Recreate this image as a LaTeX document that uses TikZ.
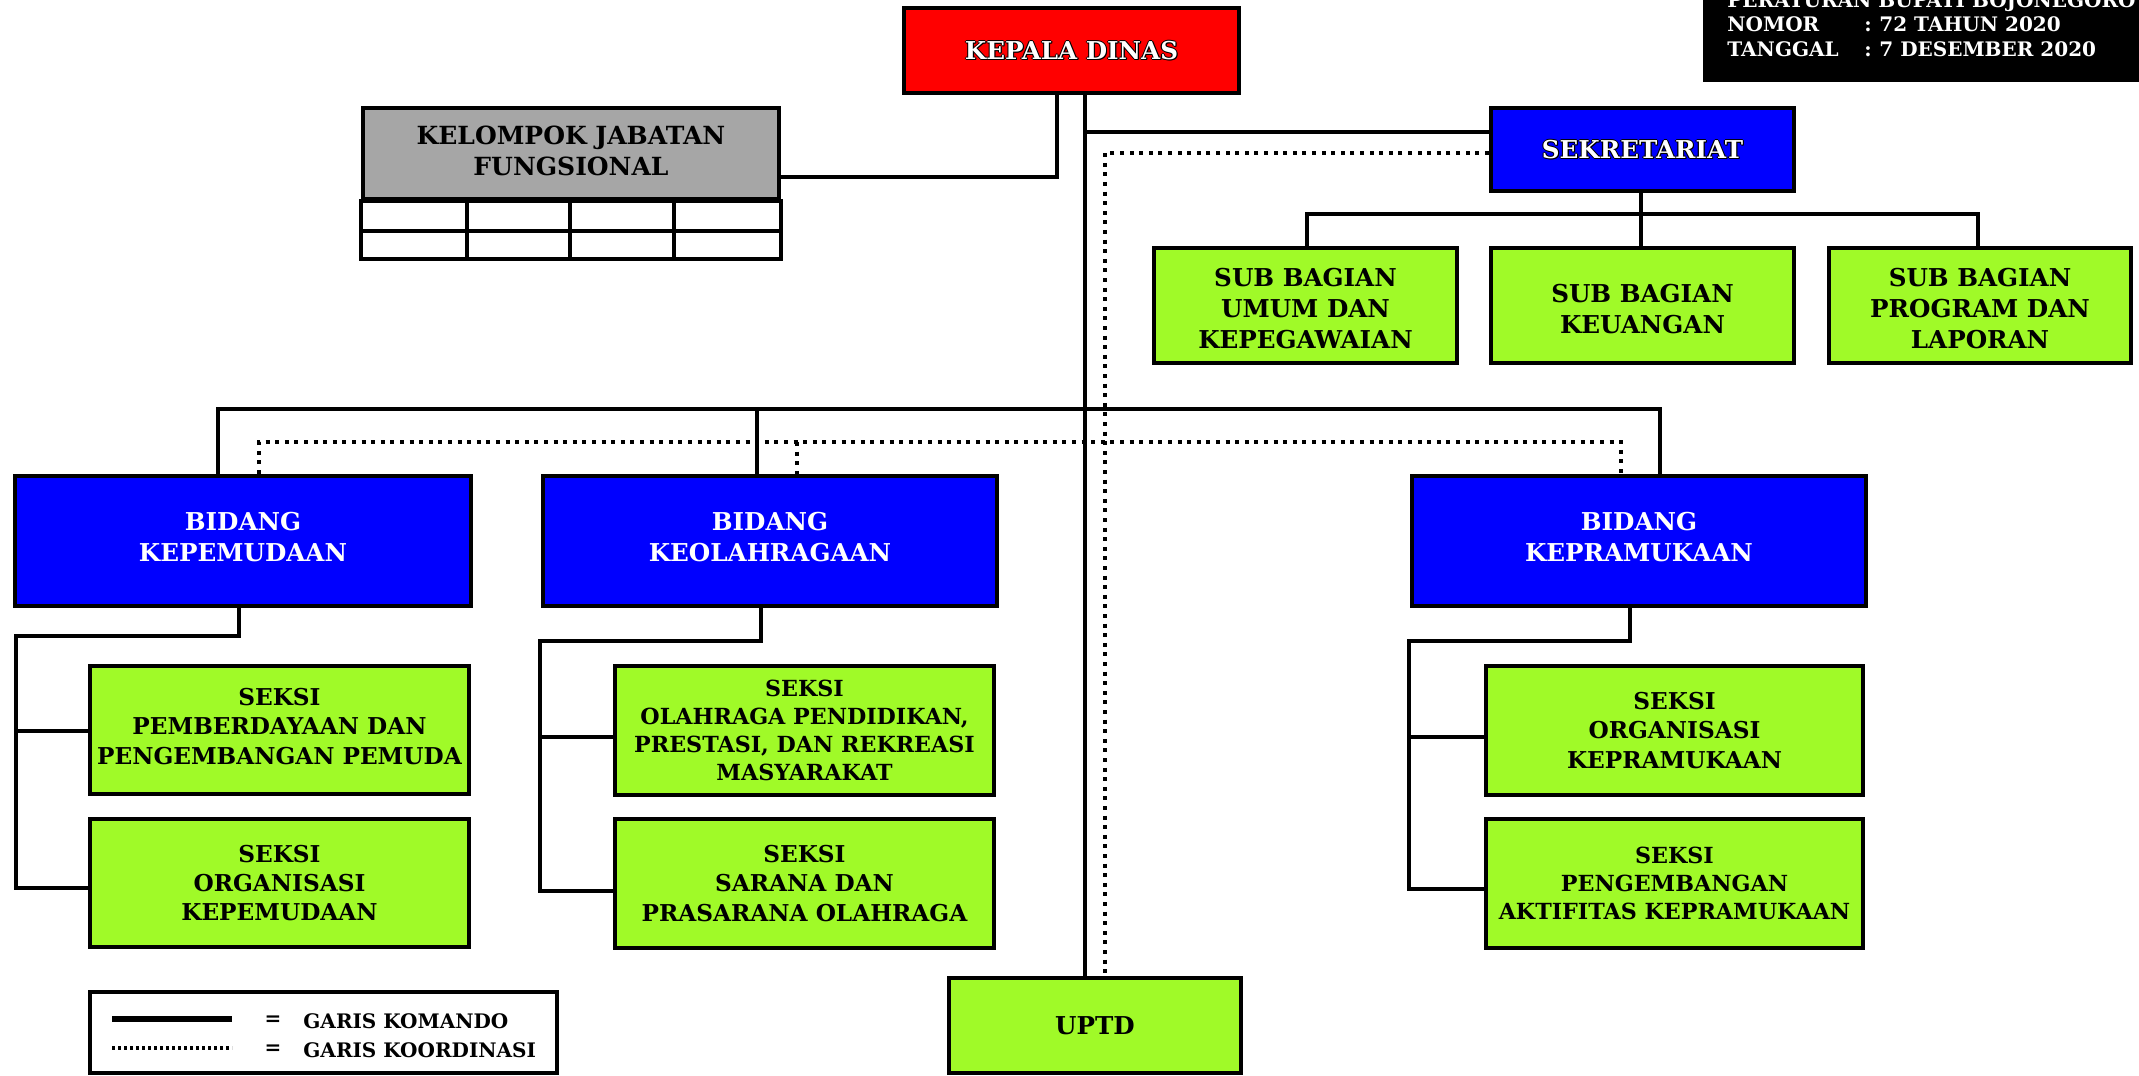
\documentclass[tikz,border=0pt]{standalone}
\usepackage{fontspec}
\setmainfont{DejaVu Serif}
\definecolor{kdred}{RGB}{255,0,0}
\definecolor{orgblue}{RGB}{0,0,255}
\definecolor{orglime}{RGB}{160,250,40}
\definecolor{kjfgray}{RGB}{166,166,166}
\newcommand\olt[1]{\leavevmode
  \rlap{\hspace*{0.55pt}\textcolor{black}{#1}}%
  \rlap{\hspace*{-0.55pt}\textcolor{black}{#1}}%
  \rlap{\raisebox{0.55pt}{\textcolor{black}{#1}}}%
  \rlap{\raisebox{-0.55pt}{\textcolor{black}{#1}}}%
  \rlap{\hspace*{0.5pt}\raisebox{-0.5pt}{\textcolor{black}{#1}}}%
  \textcolor{white}{#1}}
\newcommand\shiftv[2]{\raisebox{#1}[\height][\depth]{\begin{tabular}{@{}c@{}}#2\end{tabular}}}
\begin{document}
\begin{tikzpicture}[x=0.5pt,y=-0.5pt,
  box/.style={draw,line width=2.2pt,inner sep=0pt,align=center},
  cmd/.style={line width=1.8pt},
  crd/.style={line width=2pt,dash pattern=on 2pt off 2.8pt},
  lgf/.style={font=\bfseries\fontsize{12.3}{15.6}\selectfont},
  mdf/.style={font=\bfseries\fontsize{11.6}{14.6}\selectfont},
  smf/.style={font=\bfseries\fontsize{11.1}{13.9}\selectfont},
  hdf/.style={font=\bfseries\fontsize{10}{12}\selectfont,text=white,inner sep=0pt},
  lgd/.style={font=\bfseries\fontsize{10}{12}\selectfont,inner sep=0pt},
  green/.style={box,fill=orglime},
  blue/.style={box,fill=orgblue,text=white},
]
\useasboundingbox (0,0) rectangle (2139,1075);

% header
\node[fill=black,inner sep=0pt,minimum width=220pt,minimum height=42pt,anchor=north west] (hdr) at (1703,-2) {};
\node[hdf,anchor=base west] (h1) at (1727,7.5) {PERATURAN BUPATI BOJONEGORO};
\node[hdf,anchor=base west] (h2) at (1727,32) {NOMOR};
\node[hdf,anchor=base] (h2c) at (1868,32) {:};
\node[hdf,anchor=base west] (h2v) at (1879,32) {72 TAHUN 2020};
\node[hdf,anchor=base west] (h3) at (1727,56.5) {TANGGAL};
\node[hdf,anchor=base] (h3c) at (1868,56.5) {:};
\node[hdf,anchor=base west] (h3v) at (1879,56.5) {7 DESEMBER 2020};

% main nodes
\node[box,fill=kdred,lgf,minimum width=167.5pt,minimum height=42.5pt] (KD) at (1071.5,50.5) {\olt{KEPALA DINAS}};
\node[box,fill=kjfgray,font=\bfseries\fontsize{12.5}{15.5}\selectfont,minimum width=208pt,minimum height=45.5pt] (KJF) at (571,153.5) {\shiftv{0pt}{KELOMPOK JABATAN\\FUNGSIONAL}};
\draw[line width=2.2pt] (KJF.south west) rectangle (KJF.south east |- 0,259);
\draw[line width=2.2pt] (KJF.south west |- 0,231) -- (KJF.south east |- 0,231);
\foreach \cx in {467,570,674} \draw[line width=2.2pt] (\cx,0 |- KJF.south) -- (\cx,259);

\node[blue,lgf,minimum width=151.5pt,minimum height=41.5pt] (SEK) at (1642.5,149.5) {\olt{SEKRETARIAT}};

\node[green,lgf,minimum width=151.5pt,minimum height=57.5pt] (SUB1) at (1305.5,305.5) {\shiftv{-3pt}{SUB BAGIAN\\UMUM DAN\\KEPEGAWAIAN}};
\node[green,lgf,minimum width=151.5pt,minimum height=57.5pt] (SUB2) at (1642.5,305.5) {\shiftv{-3pt}{SUB BAGIAN\\KEUANGAN}};
\node[green,lgf,minimum width=151pt,minimum height=57.5pt] (SUB3) at (1980,305.5) {\shiftv{-3pt}{SUB BAGIAN\\PROGRAM DAN\\LAPORAN}};

\node[blue,lgf,minimum width=228pt,minimum height=65pt] (BKpm) at (243,541) {\shiftv{0.5pt}{BIDANG\\KEPEMUDAAN}};
\node[blue,lgf,minimum width=227pt,minimum height=65pt] (BKol) at (770,541) {\shiftv{0.5pt}{BIDANG\\KEOLAHRAGAAN}};
\node[blue,lgf,minimum width=227pt,minimum height=65pt] (BKpr) at (1639,541) {\shiftv{0.5pt}{BIDANG\\KEPRAMUKAAN}};

\node[green,mdf,minimum width=189.5pt,minimum height=64pt] (S11) at (279.5,730) {\shiftv{0.5pt}{SEKSI\\PEMBERDAYAAN DAN\\PENGEMBANGAN PEMUDA}};
\node[green,mdf,minimum width=189.5pt,minimum height=64pt] (S12) at (279.5,883) {SEKSI\\ORGANISASI\\KEPEMUDAAN};
\node[green,smf,minimum width=189.5pt,minimum height=64.5pt] (S21) at (804.5,730.5) {SEKSI\\OLAHRAGA PENDIDIKAN,\\PRESTASI, DAN REKREASI\\MASYARAKAT};
\node[green,mdf,minimum width=189.5pt,minimum height=64.5pt] (S22) at (804.5,883.5) {SEKSI\\SARANA DAN\\PRASARANA OLAHRAGA};
\node[green,mdf,minimum width=188.5pt,minimum height=64.5pt] (S31) at (1674.5,730.5) {SEKSI\\ORGANISASI\\KEPRAMUKAAN};
\node[green,smf,minimum width=188.5pt,minimum height=64.5pt] (S32) at (1674.5,883.5) {SEKSI\\PENGEMBANGAN\\AKTIFITAS KEPRAMUKAAN};

\node[green,lgf,minimum width=146pt,minimum height=47.5pt] (UPTD) at (1095,1025.5) {UPTD};

% legend
\node[draw,line width=2pt,inner sep=0pt,minimum width=233.5pt,minimum height=40.5pt] (LEG) at (323.5,1032.5) {};
\draw[line width=2.6pt] (112,1019) -- (232,1019);
\draw[line width=2.4pt,dash pattern=on 1.6pt off 1.4pt] (112,1048) -- (232,1048);
\node[lgd] (e1) at (273,1021) {=};
\node[lgd] (e2) at (273,1050) {=};
\node[lgd,anchor=west] (t1) at (303,1021) {GARIS KOMANDO};
\node[lgd,anchor=west] (t2) at (303,1050) {GARIS KOORDINASI};

% connectors
\coordinate (j1) at (1057,177);
\draw[cmd] (KD.south -| j1) -- (j1) -- (KJF.east |- j1);
\coordinate (tr) at (1085,0);
\draw[cmd] (KD.south -| tr) -- (UPTD.north -| tr);
\coordinate (j2) at (1085,132);
\draw[cmd] (j2) -- (SEK.west |- j2);
\coordinate (d1) at (1105,153);
\draw[crd] (SEK.west |- d1) -- (d1) -- (UPTD.north -| d1);

\coordinate (sj) at (1641,214);
\coordinate (s1) at (1307,214);
\coordinate (s3) at (1978,214);
\draw[cmd] (SEK.south -| sj) -- (sj);
\draw[cmd] (SUB1.north -| s1) -- (s1) -- (s3) -- (SUB3.north -| s3);
\draw[cmd] (sj) -- (SUB2.north -| sj);

\coordinate (b1) at (218,409);
\coordinate (b2) at (757,409);
\coordinate (b3) at (1660,409);
\draw[cmd] (BKpm.north -| b1) -- (b1) -- (b3) -- (BKpr.north -| b3);
\draw[cmd] (b2) -- (BKol.north -| b2);
\coordinate (c1) at (259,442);
\coordinate (c2) at (797,442);
\coordinate (c3) at (1621,442);
\draw[crd] (BKpm.north -| c1) -- (c1) -- (c3) -- (BKpr.north -| c3);
\draw[crd] (c2) -- (BKol.north -| c2);

\coordinate (k1) at (239,636);
\coordinate (k2) at (16,636);
\coordinate (k3) at (16,731);
\coordinate (k4) at (16,888);
\draw[cmd] (BKpm.south -| k1) -- (k1) -- (k2) -- (k4) -- (S12.west |- k4);
\draw[cmd] (k3) -- (S11.west |- k3);

\coordinate (l1) at (761,641);
\coordinate (l2) at (540,641);
\coordinate (l3) at (540,737);
\coordinate (l4) at (540,891);
\draw[cmd] (BKol.south -| l1) -- (l1) -- (l2) -- (l4) -- (S22.west |- l4);
\draw[cmd] (l3) -- (S21.west |- l3);

\coordinate (m1) at (1630,641);
\coordinate (m2) at (1409,641);
\coordinate (m3) at (1409,737);
\coordinate (m4) at (1409,889);
\draw[cmd] (BKpr.south -| m1) -- (m1) -- (m2) -- (m4) -- (S32.west |- m4);
\draw[cmd] (m3) -- (S31.west |- m3);
\end{tikzpicture}
\end{document}
